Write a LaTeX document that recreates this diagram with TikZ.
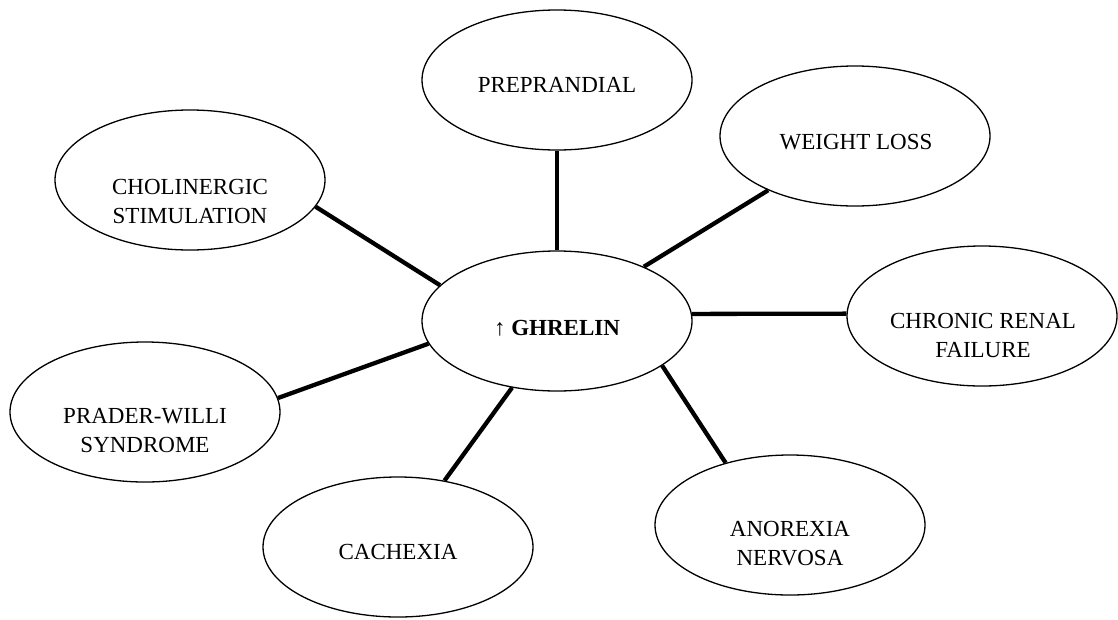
\documentclass[tikz,border=0pt]{standalone}
\usepackage{fontspec}
\setmainfont{Liberation Serif}
\usetikzlibrary{shapes.geometric}
\begin{document}
\begin{tikzpicture}[x=1pt,y=-1pt,
  bub/.style={ellipse,draw=black,line width=1.3pt,minimum width=270pt,minimum height=140pt,inner sep=0pt},
  txt/.style={font=\fontsize{23}{29}\selectfont,align=center,inner sep=0pt,text=black},
  link/.style={draw=black,line width=4.3pt}]
\useasboundingbox (0,0) rectangle (1118,619);
% ellipses
\node[bub] (g)    at (557,321) {};
\node[bub] (pre)  at (557,80)  {};
\node[bub] (wl)   at (855,136) {};
\node[bub] (chol) at (190,180) {};
\node[bub] (cr)   at (982,316) {};
\node[bub] (pw)   at (145,412) {};
\node[bub] (cach) at (398,547) {};
\node[bub] (ano)  at (790,525) {};
% texts
\node[txt,anchor=base] at (557,335) {↑ \textbf{GHRELIN}};
\node[txt] at (557,85)  {PREPRANDIAL};
\node[txt] at (856,142) {WEIGHT LOSS};
\node[txt] at (190,201) {CHOLINERGIC\\STIMULATION};
\node[txt] at (983,335) {CHRONIC RENAL\\FAILURE};
\node[txt] at (145,431) {PRADER-WILLI\\SYNDROME};
\node[txt] at (398,552) {CACHEXIA};
\node[txt] at (790,544) {ANOREXIA\\NERVOSA};
% connectors
\draw[link] (g.90)    -- (pre.-90);
\draw[link] (g.32)    -- (wl.212.4);
\draw[link] (g.163)   -- (chol.-12.6);
\draw[link] (g.3)     -- (cr.179);
\draw[link] (g.190)   -- (pw.6.3);
\draw[link] (g.236)   -- (cach.55);
\draw[link] (g.-23.7) -- (ano.136);
\end{tikzpicture}
\end{document}
